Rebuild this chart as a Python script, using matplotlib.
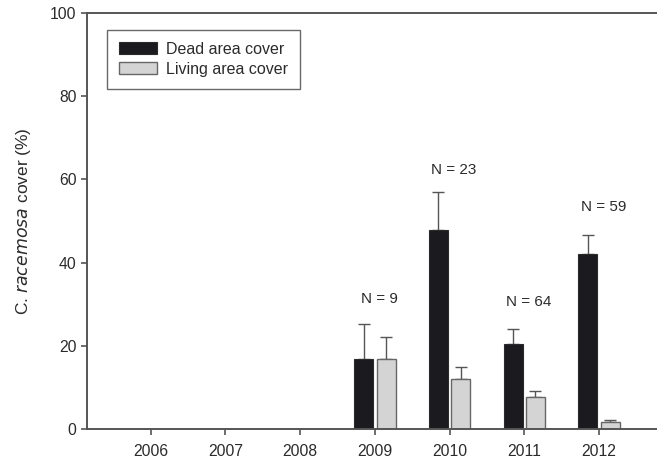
import numpy as np
import matplotlib.pyplot as plt

years = [2006, 2007, 2008, 2009, 2010, 2011, 2012]
bar_years = [2009, 2010, 2011, 2012]
dead = [16.8, 47.9, 20.3, 42.1]
dead_err = [8.4, 9.0, 3.6, 4.6]
living = [16.8, 11.9, 7.6, 1.7]
living_err = [5.2, 3.0, 1.5, 0.5]
n_labels = ['N = 9', 'N = 23', 'N = 64', 'N = 59']
n_y = [31.3, 62.2, 30.5, 53.4]

plt.rcParams['font.family'] = ['Liberation Sans', 'DejaVu Sans']
text_col = '#2b2b2b'
axis_col = '#555555'

fig = plt.figure(figsize=(6.57, 4.62), dpi=100)
ax = fig.add_axes([87 / 657, 1 - 428.7 / 462, 1 - 87 / 657, (428.7 - 13.3) / 462])

x = np.array(bar_years, dtype=float)
w = 0.255
ax.bar(x - 0.15, dead, w, color='#1b1b1f', edgecolor='#2a2a2a', linewidth=0.8,
       label='Dead area cover', zorder=2)
ax.bar(x + 0.15, living, w, color='#d4d4d4', edgecolor='#666666', linewidth=1.0,
       label='Living area cover', zorder=2)
ax.errorbar(x - 0.15, dead, yerr=[np.zeros(4), dead_err], fmt='none',
            ecolor='#555555', elinewidth=1.0, capsize=4, capthick=1.0, zorder=1)
ax.errorbar(x + 0.15, living, yerr=[np.zeros(4), living_err], fmt='none',
            ecolor='#555555', elinewidth=1.0, capsize=4, capthick=1.0, zorder=1)

for xi, yi, lab in zip(x, n_y, n_labels):
    ax.text(xi + 0.06, yi, lab, ha='center', va='center', fontsize=11, color=text_col)

ax.set_xlim(2006 - 0.853, 2012 + 0.777)
ax.set_ylim(0, 100)
ax.set_xticks(years)
ax.set_xticklabels([str(y) for y in years])
ax.set_yticks([0, 20, 40, 60, 80, 100])

ax.spines['right'].set_visible(False)
for s in ['left', 'bottom', 'top']:
    ax.spines[s].set_color(axis_col)
    ax.spines[s].set_linewidth(1.4)
ax.tick_params(axis='both', colors=axis_col, labelcolor=text_col, labelsize=11.3,
               direction='out', length=4, width=1.2)
ax.tick_params(axis='x', pad=7)

ax.set_ylabel(r'C. $\it{racemosa}$ cover (%)', fontsize=12.5, color=text_col, labelpad=12)

leg = ax.legend(loc='upper left', bbox_to_anchor=(0.035, 0.96), borderaxespad=0,
                fontsize=11.5, handlelength=2.4, handleheight=0.75, labelspacing=0.3,
                borderpad=0.75, handletextpad=0.55, frameon=True, fancybox=False)
leg.get_frame().set_edgecolor('#444444')
leg.get_frame().set_linewidth(1.0)
for t in leg.get_texts():
    t.set_color(text_col)

fig.savefig('out.png', dpi=100)
